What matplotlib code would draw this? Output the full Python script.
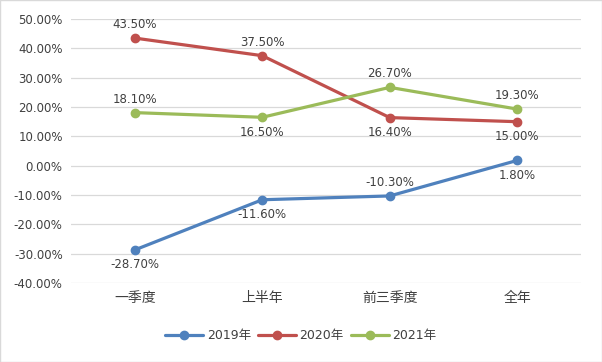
import matplotlib.pyplot as plt
import matplotlib.ticker as ticker

plt.rcParams['font.family'] = ['DejaVu Sans', 'Noto Sans CJK SC']

categories = ['一季度', '上半年', '前三季度', '全年']
series_names = ['2019年', '2020年', '2021年']
v2019 = [-28.7, -11.6, -10.3, 1.8]
v2020 = [43.5, 37.5, 16.4, 15.0]
v2021 = [18.1, 16.5, 26.7, 19.3]
# label placement: 1 above, -1 below
pos2019 = [-1, -1, 1, -1]
pos2020 = [1, 1, -1, -1]
pos2021 = [1, -1, 1, 1]

colors = ['#4F81BD', '#C0504D', '#9BBB59']
txt = '#404040'

fig = plt.figure(figsize=(6.02, 3.62), dpi=100)
fig.patches.append(plt.Rectangle((0, 0), 1, 1, transform=fig.transFigure,
                                 fill=False, edgecolor='#D9D9D9', linewidth=1))
ax = fig.add_axes([0.118, 0.218, 0.847, 0.7295])

x = range(len(categories))
for vals, pos, name, c in zip([v2019, v2020, v2021], [pos2019, pos2020, pos2021],
                              series_names, colors):
    ax.plot(x, vals, color=c, linewidth=2.3, marker='o', markersize=6, label=name,
            solid_capstyle='round')
    for xi, v, p in zip(x, vals, pos):
        ax.annotate('{0:.2f}%'.format(v), (xi, v), xytext=(0, 5 if p > 0 else -6),
                    textcoords='offset points', ha='center',
                    va='bottom' if p > 0 else 'top', fontsize=8.5, color=txt)

ax.set_ylim(-40, 50)
ax.set_xlim(-0.5, 3.5)
ax.yaxis.set_major_locator(ticker.MultipleLocator(10))
ax.yaxis.set_major_formatter(ticker.FuncFormatter(lambda v, p: '{0:.2f}%'.format(v)))
ax.set_xticks(list(x))
ax.set_xticklabels(categories)
ax.yaxis.grid(True, color='#D9D9D9', linewidth=0.9)
ax.set_axisbelow(True)
for s in ax.spines.values():
    s.set_visible(False)
ax.tick_params(axis='both', length=0, labelsize=8.5, colors=txt)
ax.tick_params(axis='x', pad=6, labelsize=10)
ax.tick_params(axis='y', pad=6)

handles, labels = ax.get_legend_handles_labels()
fig.legend(handles, labels, loc='center', bbox_to_anchor=(0.5, 0.072), ncol=3,
           frameon=False, fontsize=9, labelcolor=txt, handlelength=3.0,
           columnspacing=0.6, handletextpad=0.3)

fig.savefig('out.png', dpi=100)
